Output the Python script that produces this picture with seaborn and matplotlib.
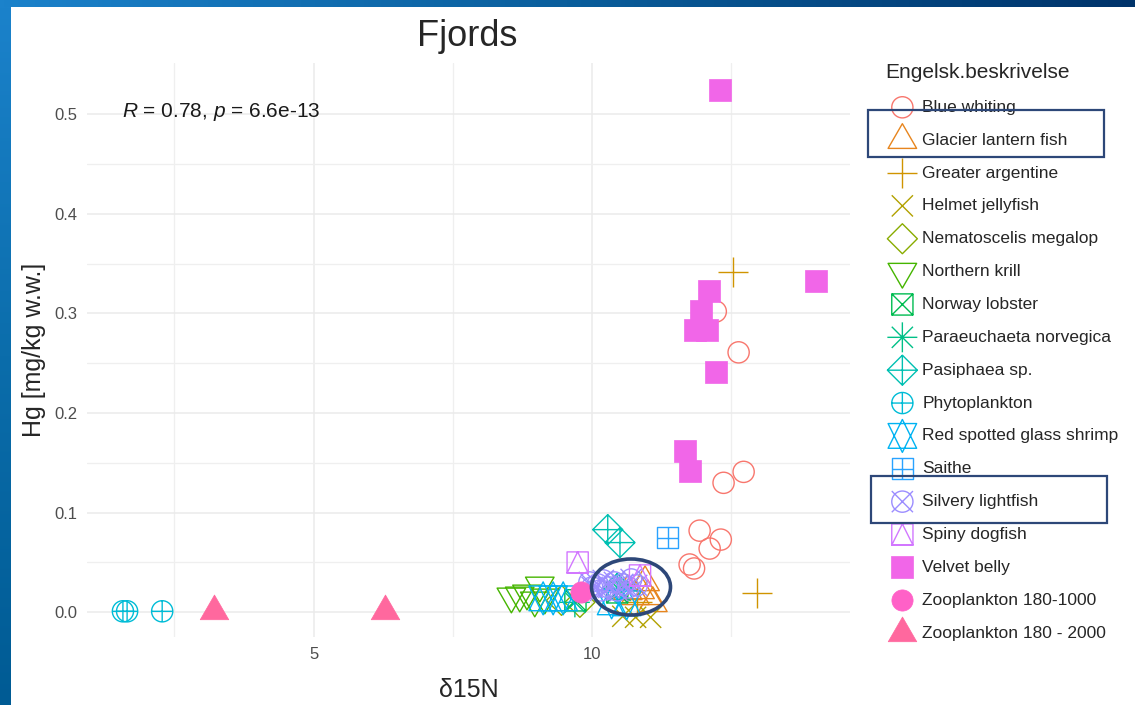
import numpy as np
import pandas as pd
import matplotlib
matplotlib.use('Agg')
import matplotlib.pyplot as plt
import seaborn as sns
from matplotlib.path import Path
from matplotlib.patches import Ellipse, Rectangle
from matplotlib.colors import LinearSegmentedColormap
from matplotlib.ticker import FormatStrFormatter

# -----------------------------
# Data: d15N vs Hg per species
# -----------------------------
species = ['Blue whiting', 'Glacier lantern fish', 'Greater argentine', 'Helmet jellyfish',
           'Nematoscelis megalop', 'Northern krill', 'Norway lobster', 'Paraeuchaeta norvegica',
           'Pasiphaea sp.', 'Phytoplankton', 'Red spotted glass shrimp', 'Saithe',
           'Silvery lightfish', 'Spiny dogfish', 'Velvet belly', 'Zooplankton 180-1000',
           'Zooplankton 180 - 2000']

blue_whiting_x = [12.22, 12.63, 12.72, 12.36, 11.93, 12.31, 12.11, 11.75, 11.83]
blue_whiting_y = [0.302, 0.261, 0.141, 0.130, 0.082, 0.073, 0.064, 0.048, 0.044]
glacier_x = [10.64, 10.77, 10.86, 10.95, 11.00, 11.09]
glacier_y = [0.021, 0.016, 0.022, 0.030, 0.016, 0.009]
argentine_x = [12.53, 12.96, 10.80]
argentine_y = [0.342, 0.019, 0.010]
jellyfish_x = [10.55, 10.78, 11.05]
jellyfish_y = [-0.004, -0.005, -0.005]
nematoscelis_x = [9.78, 9.45]
nematoscelis_y = [0.010, 0.012]
krill_x = [8.55, 8.70, 8.83, 8.97, 9.06, 9.15]
krill_y = [0.016, 0.017, 0.019, 0.012, 0.027, 0.015]
lobster_x = [9.70, 10.45]
lobster_y = [0.012, 0.020]
paraeuchaeta_x = [9.69, 10.50]
paraeuchaeta_y = [0.010, 0.022]
pasiphaea_x = [10.28, 10.50, 10.45]
pasiphaea_y = [0.083, 0.070, 0.024]
phyto_x = [1.575, 1.65, 2.28]
phyto_y = [0.001, 0.001, 0.001]
shrimp_x = [9.12, 9.30, 9.48, 10.35, 10.62]
shrimp_y = [0.014, 0.014, 0.014, 0.010, 0.009]
saithe_x = [11.36]
saithe_y = [0.075]
silvery_x = [9.95, 10.00, 10.10, 10.15, 10.20, 10.30, 10.40, 10.45, 10.55, 10.65, 10.70, 10.80]
silvery_y = [0.030, 0.025, 0.028, 0.022, 0.032, 0.025, 0.030, 0.022, 0.028, 0.025, 0.033, 0.027]
dogfish_x = [9.74, 10.86]
dogfish_y = [0.050, 0.037]
velvet_x = [12.29, 14.02, 12.09, 11.95, 11.84, 12.07, 12.22, 11.66, 11.75]
velvet_y = [0.524, 0.333, 0.323, 0.303, 0.283, 0.283, 0.241, 0.162, 0.142]
zoo1000_x = [9.80]
zoo1000_y = [0.020]
zoo2000_x = [3.21, 6.28]
zoo2000_y = [0.001, 0.001]

xs = [blue_whiting_x, glacier_x, argentine_x, jellyfish_x, nematoscelis_x, krill_x, lobster_x,
      paraeuchaeta_x, pasiphaea_x, phyto_x, shrimp_x, saithe_x, silvery_x, dogfish_x, velvet_x,
      zoo1000_x, zoo2000_x]
ys = [blue_whiting_y, glacier_y, argentine_y, jellyfish_y, nematoscelis_y, krill_y, lobster_y,
      paraeuchaeta_y, pasiphaea_y, phyto_y, shrimp_y, saithe_y, silvery_y, dogfish_y, velvet_y,
      zoo1000_y, zoo2000_y]

df = pd.concat([pd.DataFrame({'d15N': x, 'Hg': y, 'Engelsk.beskrivelse': s})
                for s, x, y in zip(species, xs, ys)], ignore_index=True)


# -----------------------------
# ggplot-style hue palette
# -----------------------------
def hue_pal(n, c=100, l=65):
    xn, yn, zn = 95.047, 100.0, 108.883
    un = 4 * xn / (xn + 15 * yn + 3 * zn)
    vn = 9 * yn / (xn + 15 * yn + 3 * zn)
    m = np.array([[3.240479, -1.537150, -0.498535],
                  [-0.969256, 1.875992, 0.041556],
                  [0.055648, -0.204043, 1.057311]])
    out = []
    for h in 15 + 360 * np.arange(n) / n:
        u, v = c * np.cos(np.radians(h)), c * np.sin(np.radians(h))
        Y = yn * ((l + 16) / 116) ** 3
        up, vp = u / (13 * l) + un, v / (13 * l) + vn
        X = 9 * Y * up / (4 * vp)
        Z = -X / 3 - 5 * Y + 3 * Y / vp
        rgb = m @ (np.array([X, Y, Z]) / 100)
        rgb = np.where(rgb <= 0.0031308, 12.92 * rgb, 1.055 * np.abs(rgb) ** (1 / 2.4) - 0.055)
        out.append(tuple(np.clip(rgb, 0, 1)))
    return out


colors = hue_pal(len(species))

# -----------------------------
# R pch shapes 1..17 as paths (unit = circle radius)
# -----------------------------
SQ2 = np.sqrt(2)
TRC0 = np.sqrt(4 * np.pi / (3 * np.sqrt(3)))
TRC1 = TRC0 * np.sqrt(3) / 2
TRC2 = TRC0 / 2


def seg(x0, y0, x1, y1):
    return Path([(x0, y0), (x1, y1)], [Path.MOVETO, Path.LINETO])


def poly(pts):
    return Path(pts + [pts[0]], [Path.MOVETO] + [Path.LINETO] * (len(pts) - 1) + [Path.CLOSEPOLY])


def plus(r):
    return [seg(-r, 0, r, 0), seg(0, -r, 0, r)]


def times(r):
    return [seg(-r, -r, r, r), seg(-r, r, r, -r)]


def square(r):
    return poly([(-r, -r), (r, -r), (r, r), (-r, r)])


circle = Path.unit_circle()
tri_up = poly([(0, TRC0), (TRC1, -TRC2), (-TRC1, -TRC2)])
tri_dn = poly([(0, -TRC0), (TRC1, TRC2), (-TRC1, TRC2)])
yc11 = 0.5 * (TRC2 + TRC0)
diamond = poly([(0, SQ2), (SQ2, 0), (0, -SQ2), (-SQ2, 0)])

shapes = [
    ([circle], False),
    ([tri_up], False),
    (plus(SQ2), False),
    (times(1), False),
    ([diamond], False),
    ([tri_dn], False),
    ([square(1)] + times(1), False),
    (times(1) + plus(SQ2), False),
    ([diamond] + plus(SQ2), False),
    ([circle] + plus(1), False),
    ([poly([(0, TRC0), (TRC1, -yc11), (-TRC1, -yc11)]),
      poly([(0, -TRC0), (TRC1, yc11), (-TRC1, yc11)])], False),
    ([square(1)] + plus(1), False),
    ([circle] + times(1), False),
    ([square(1), poly([(0, 1), (1, -1), (-1, -1)])], False),
    ([square(1)], True),
    ([circle], True),
    ([tri_up], True),
]

R_PX = 10.6  # circle radius in pixels

# -----------------------------
# Figure
# -----------------------------
sns.set_style('white')
plt.rcParams['font.family'] = ['Liberation Sans', 'DejaVu Sans']
plt.rcParams['mathtext.fontset'] = 'custom'
plt.rcParams['mathtext.rm'] = 'Liberation Sans'
plt.rcParams['mathtext.it'] = 'Liberation Sans:italic'

W, H = 1135, 705
fig = plt.figure(figsize=(W / 100, H / 100), dpi=100)
fig.patch.set_facecolor('white')

# slide frame: gradient bars
top_cmap = LinearSegmentedColormap.from_list('top', ['#1b82cb', '#0a5e9c', '#00336a'])
left_cmap = LinearSegmentedColormap.from_list('left', ['#1b82cb', '#0b6dab', '#005b94'])
bar = fig.add_axes([0, 1 - 7 / H, 1, 7 / H])
bar.imshow(np.linspace(0, 1, 256)[None, :], aspect='auto', cmap=top_cmap)
bar.axis('off')
strip = fig.add_axes([0, 0, 10 / W, 1 - 7 / H])
strip.imshow(np.linspace(0, 1, 256)[:, None], aspect='auto', cmap=left_cmap)
strip.axis('off')

ax = fig.add_axes([87 / W, 1 - 637 / H, (850 - 87) / W, (637 - 63) / H])

for i, name in enumerate(species):
    parts, filled = shapes[i]
    path = Path.make_compound_path(*parts)
    ext = np.abs(path.vertices).max()
    size_pt = 2 * R_PX * ext * 0.72
    sub = df[df['Engelsk.beskrivelse'] == name]
    if filled:
        sns.scatterplot(data=sub, x='d15N', y='Hg', marker=path, s=size_pt ** 2,
                        color=colors[i], edgecolor=colors[i], linewidth=0.5,
                        label=name, ax=ax, zorder=3)
    else:
        sns.scatterplot(data=sub, x='d15N', y='Hg', marker=path, s=size_pt ** 2,
                        color=colors[i], facecolor='none', edgecolor=colors[i],
                        linewidth=1.0, label=name, ax=ax, zorder=3)

ax.set_xlim(0.93, 14.63)
ax.set_ylim(-0.0248, 0.5515)
ax.set_xticks([5, 10])
ax.set_xticks([2.5, 7.5, 12.5], minor=True)
ax.set_yticks(np.arange(0, 0.51, 0.1))
ax.set_yticks(np.arange(0.05, 0.55, 0.1), minor=True)
ax.yaxis.set_major_formatter(FormatStrFormatter('%.1f'))
ax.grid(which='major', color='#EBEBEB', lw=1.1)
ax.grid(which='minor', color='#EFEFEF', lw=0.9)
ax.set_axisbelow(True)
for sp in ax.spines.values():
    sp.set_visible(False)
ax.tick_params(which='both', length=0, labelsize=12, labelcolor='#4D4D4D', pad=7)

ax.set_xlabel('δ15N', fontsize=18, labelpad=12)
ax.set_ylabel('Hg [mg/kg w.w.]', fontsize=18, labelpad=6)
fig.text(467 / W, 1 - 46 / H, 'Fjords', fontsize=26, ha='center', va='baseline')

ax.text(1.556, 0.4976, r'$\mathit{R}$ = 0.78, $\mathit{p}$ = 6.6e-13', fontsize=15,
        ha='left', va='baseline', color='#1A1A1A')

handles, labels = ax.get_legend_handles_labels()
leg = ax.legend(handles, labels, title='Engelsk.beskrivelse', loc='upper left',
                bbox_to_anchor=(885 / W, 1 - 63 / H), bbox_transform=fig.transFigure,
                frameon=False, fontsize=12.5, title_fontsize=15, alignment='left',
                borderpad=0, borderaxespad=0, labelspacing=1.02, handlelength=2.0,
                handletextpad=0.15, scatterpoints=1)

# slide annotations: highlight boxes and ellipse
navy = '#2D4778'
fig.add_artist(Rectangle((868 / W, 1 - 157 / H), 236 / W, 47 / H, transform=fig.transFigure,
                         fill=False, edgecolor=navy, lw=1.6))
fig.add_artist(Rectangle((871 / W, 1 - 523 / H), 236 / W, 47 / H, transform=fig.transFigure,
                         fill=False, edgecolor=navy, lw=1.6))
fig.add_artist(Ellipse((631 / W, 1 - 587 / H), 79 / W, 56 / H, transform=fig.transFigure,
                       fill=False, edgecolor=navy, lw=2.6))

plt.savefig('out.png', dpi=100)
plt.close()
